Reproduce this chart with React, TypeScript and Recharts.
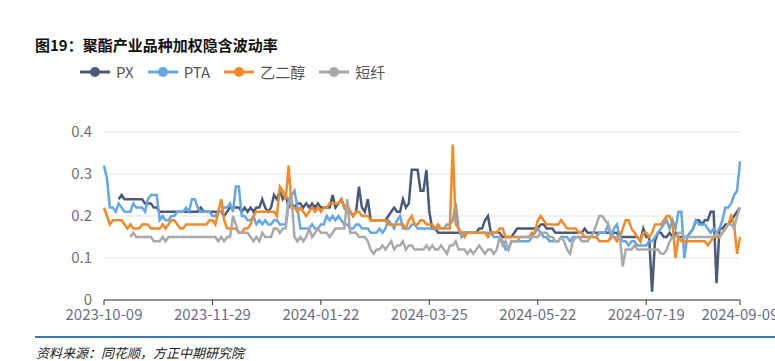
import { LineChart, Line, XAxis, YAxis, CartesianGrid } from "recharts"

// tick positions (trading-day index) and their labels
const tickIdx = [0, 37, 74, 111, 148, 185, 217]
const tickLabels = ["2023-10-09", "2023-11-29", "2024-01-22", "2024-03-25", "2024-05-22", "2024-07-19", "2024-09-09"]
const yTicks = [0, 0.1, 0.2, 0.3, 0.4]

const pxVals = [
  null, null, null, null, null, 0.24, 0.25, 0.24, 0.24, 0.24,
  0.24, 0.24, 0.24, 0.24, 0.23, 0.23, 0.23, 0.22, 0.22, 0.21,
  0.21, 0.21, 0.21, 0.21, 0.21, 0.21, 0.21, 0.21, 0.21, 0.21,
  0.21, 0.21, 0.21, 0.22, 0.21, 0.21, 0.21, 0.21, 0.21, 0.21,
  0.21, 0.20, 0.21, 0.22, 0.22, 0.22, 0.22, 0.21, 0.22, 0.21,
  0.22, 0.21, 0.22, 0.22, 0.24, 0.22, 0.21, 0.22, 0.25, 0.24,
  0.26, 0.24, 0.25, 0.22, 0.23, 0.22, 0.23, 0.23, 0.22, 0.23,
  0.22, 0.23, 0.22, 0.23, 0.22, 0.22, 0.22, 0.22, 0.25, 0.22,
  0.23, 0.24, 0.22, 0.21, 0.21, 0.20, 0.21, 0.27, 0.22, 0.21,
  0.24, 0.19, 0.19, 0.19, 0.19, 0.19, 0.19, 0.20, 0.21, 0.22,
  0.21, 0.21, 0.24, 0.22, 0.23, 0.31, 0.31, 0.31, 0.26, 0.26,
  0.31, 0.21, 0.17, 0.17, 0.16, 0.16, 0.16, 0.16, 0.16, 0.16,
  0.16, 0.16, 0.16, 0.16, 0.16, 0.16, 0.16, 0.16, 0.17, 0.17,
  0.19, 0.20, 0.16, 0.16, 0.16, 0.16, 0.15, 0.15, 0.15, 0.15,
  0.16, 0.17, 0.17, 0.17, 0.17, 0.17, 0.17, 0.17, 0.17, 0.18,
  0.18, 0.17, 0.17, 0.17, 0.16, 0.16, 0.16, 0.16, 0.16, 0.16,
  0.16, 0.16, 0.16, 0.16, 0.17, 0.16, 0.16, 0.16, 0.16, 0.16,
  0.16, 0.16, 0.16, 0.16, 0.16, 0.16, 0.15, 0.15, 0.15, 0.15,
  0.15, 0.15, 0.15, 0.14, 0.17, 0.15, 0.15, 0.02, 0.14, 0.16,
  0.16, 0.15, 0.15, 0.16, 0.15, 0.16, 0.15, 0.15, 0.15, 0.15,
  0.16, 0.17, 0.19, 0.19, 0.18, 0.19, 0.19, 0.21, 0.21, 0.04,
  0.17, 0.17, 0.18, 0.18, 0.19, 0.20, 0.21, 0.22,
]

const ptaVals = [
  0.32, 0.29, 0.22, 0.22, 0.21, 0.23, 0.22, 0.21, 0.21, 0.21,
  0.23, 0.22, 0.22, 0.22, 0.21, 0.24, 0.25, 0.25, 0.25, 0.19,
  0.20, 0.19, 0.19, 0.20, 0.20, 0.21, 0.21, 0.21, 0.22, 0.21,
  0.24, 0.24, 0.22, 0.21, 0.21, 0.21, 0.21, 0.20, 0.20, 0.21,
  0.21, 0.22, 0.22, 0.23, 0.21, 0.27, 0.27, 0.20, 0.20, 0.19,
  0.19, 0.20, 0.18, 0.19, 0.18, 0.19, 0.18, 0.18, 0.19, 0.19,
  0.18, 0.18, 0.18, 0.24, 0.25, 0.26, 0.22, 0.17, 0.17, 0.17,
  0.17, 0.18, 0.17, 0.17, 0.18, 0.18, 0.20, 0.19, 0.20, 0.19,
  0.20, 0.19, 0.18, 0.18, 0.17, 0.17, 0.18, 0.18, 0.17, 0.17,
  0.17, 0.16, 0.16, 0.16, 0.17, 0.16, 0.17, 0.19, 0.18, 0.17,
  0.19, 0.20, 0.17, 0.17, 0.17, 0.18, 0.18, 0.17, 0.17, 0.17,
  0.17, 0.17, 0.17, 0.17, 0.17, 0.17, 0.17, 0.18, 0.18, 0.19,
  0.23, 0.17, 0.15, 0.16, 0.16, 0.16, 0.16, 0.16, 0.16, 0.16,
  0.16, 0.16, 0.16, 0.15, 0.15, 0.15, 0.14, 0.12, 0.12, 0.14,
  0.14, 0.14, 0.14, 0.14, 0.14, 0.14, 0.15, 0.16, 0.17, 0.16,
  0.15, 0.15, 0.14, 0.14, 0.14, 0.14, 0.15, 0.15, 0.15, 0.14,
  0.15, 0.15, 0.15, 0.15, 0.15, 0.15, 0.15, 0.15, 0.15, 0.16,
  0.16, 0.16, 0.18, 0.15, 0.17, 0.18, 0.15, 0.14, 0.14, 0.13,
  0.14, 0.14, 0.13, 0.13, 0.13, 0.13, 0.14, 0.14, 0.15, 0.16,
  0.17, 0.18, 0.19, 0.17, 0.19, 0.17, 0.21, 0.21, 0.10, 0.15,
  0.16, 0.17, 0.19, 0.18, 0.18, 0.18, 0.17, 0.16, 0.17, 0.16,
  0.17, 0.19, 0.22, 0.22, 0.23, 0.25, 0.26, 0.33,
]

const megVals = [
  0.22, 0.20, 0.18, 0.19, 0.19, 0.19, 0.19, 0.18, 0.17, 0.18,
  0.17, 0.17, 0.17, 0.18, 0.18, 0.18, 0.17, 0.17, 0.17, 0.17,
  0.18, 0.17, 0.18, 0.19, 0.19, 0.18, 0.17, 0.17, 0.18, 0.18,
  0.18, 0.18, 0.18, 0.18, 0.18, 0.18, 0.19, 0.19, 0.18, 0.21,
  0.24, 0.19, 0.17, 0.17, 0.17, 0.17, 0.16, 0.16, 0.17, 0.17,
  0.18, 0.20, 0.21, 0.21, 0.21, 0.21, 0.21, 0.21, 0.21, 0.20,
  0.27, 0.26, 0.24, 0.32, 0.22, 0.22, 0.21, 0.22, 0.21, 0.20,
  0.21, 0.22, 0.21, 0.22, 0.21, 0.22, 0.22, 0.23, 0.23, 0.23,
  0.23, 0.24, 0.22, 0.23, 0.21, 0.20, 0.21, 0.21, 0.20, 0.20,
  0.20, 0.19, 0.19, 0.19, 0.19, 0.19, 0.19, 0.18, 0.18, 0.18,
  0.18, 0.18, 0.18, 0.17, 0.19, 0.20, 0.18, 0.18, 0.19, 0.19,
  0.18, 0.18, 0.18, 0.17, 0.18, 0.17, 0.17, 0.17, 0.17, 0.37,
  0.18, 0.17, 0.16, 0.15, 0.16, 0.16, 0.16, 0.16, 0.16, 0.16,
  0.16, 0.15, 0.16, 0.16, 0.16, 0.17, 0.17, 0.15, 0.15, 0.15,
  0.15, 0.15, 0.15, 0.15, 0.15, 0.15, 0.16, 0.16, 0.19, 0.20,
  0.19, 0.18, 0.18, 0.18, 0.18, 0.18, 0.19, 0.18, 0.17, 0.17,
  0.17, 0.17, 0.16, 0.16, 0.15, 0.15, 0.15, 0.15, 0.15, 0.14,
  0.14, 0.14, 0.14, 0.15, 0.15, 0.14, 0.15, 0.17, 0.19, 0.19,
  0.17, 0.16, 0.15, 0.14, 0.16, 0.16, 0.15, 0.16, 0.18, 0.18,
  0.18, 0.19, 0.20, 0.20, 0.18, 0.10, 0.15, 0.14, 0.14, 0.14,
  0.14, 0.14, 0.14, 0.14, 0.14, 0.14, 0.13, 0.14, 0.15, 0.15,
  0.15, 0.16, 0.17, 0.18, 0.20, 0.18, 0.11, 0.15,
]

const psfVals = [
  null, null, null, null, null, null, null, null, null, 0.15,
  0.16, 0.15, 0.15, 0.15, 0.15, 0.15, 0.15, 0.14, 0.14, 0.14,
  0.15, 0.14, 0.15, 0.15, 0.15, 0.15, 0.15, 0.15, 0.15, 0.15,
  0.15, 0.15, 0.15, 0.15, 0.15, 0.15, 0.15, 0.15, 0.15, 0.14,
  0.15, 0.14, 0.15, 0.15, 0.20, 0.18, 0.16, 0.16, 0.16, 0.16,
  0.15, 0.14, 0.15, 0.14, 0.16, 0.15, 0.15, 0.15, 0.17, 0.17,
  0.16, 0.17, 0.17, 0.23, 0.24, 0.15, 0.14, 0.15, 0.14, 0.15,
  0.17, 0.15, 0.16, 0.17, 0.16, 0.16, 0.16, 0.15, 0.16, 0.17,
  0.17, 0.17, 0.17, 0.24, 0.16, 0.16, 0.16, 0.15, 0.15, 0.15,
  0.14, 0.12, 0.11, 0.12, 0.12, 0.13, 0.12, 0.13, 0.14, 0.12,
  0.13, 0.13, 0.14, 0.12, 0.13, 0.13, 0.12, 0.12, 0.12, 0.12,
  0.13, 0.12, 0.13, 0.12, 0.12, 0.13, 0.12, 0.11, 0.13, 0.13,
  0.14, 0.12, 0.12, 0.12, 0.11, 0.12, 0.11, 0.12, 0.13, 0.12,
  0.11, 0.12, 0.12, 0.11, 0.12, 0.15, 0.13, 0.14, 0.12, 0.14,
  0.14, 0.14, 0.15, 0.15, 0.15, 0.15, 0.15, 0.15, 0.15, 0.16,
  0.16, 0.16, 0.15, 0.15, 0.14, 0.14, 0.15, 0.14, 0.12, 0.11,
  0.14, 0.15, 0.15, 0.14, 0.14, 0.14, 0.15, 0.16, 0.18, 0.20,
  0.20, 0.19, 0.18, 0.16, 0.15, 0.15, 0.15, 0.08, 0.12, 0.12,
  0.12, 0.13, 0.12, 0.12, 0.12, 0.12, 0.12, 0.12, 0.12, 0.12,
  0.11, 0.11, 0.12, 0.14, 0.15, 0.15, 0.16, 0.16, 0.15, 0.15,
  0.15, 0.15, 0.15, 0.15, 0.15, 0.15, 0.15, 0.15, 0.15, 0.16,
  0.15, 0.16, 0.17, 0.18, 0.18, 0.17, 0.20, 0.22,
]

const series = [
  { key: "px", name: "PX", color: "#4b5a78", values: pxVals },
  { key: "pta", name: "PTA", color: "#66a6e2", values: ptaVals },
  { key: "meg", name: "乙二醇", color: "#f28a27", values: megVals },
  { key: "psf", name: "短纤", color: "#a9a9a9", values: psfVals },
]

const data = ptaVals.map((_, i) => {
  const row: Record<string, number | null> = { i }
  series.forEach((s) => {
    row[s.key] = s.values[i] ?? null
  })
  return row
})

const font = '"Noto Sans CJK SC", "Noto Sans", sans-serif'

function LegendRow() {
  return (
    <div style={{ display: "flex", alignItems: "center", fontFamily: font, fontSize: 15, color: "#555" }}>
      {series.map((s) => (
        <div key={s.key} style={{ display: "flex", alignItems: "center", marginRight: 14 }}>
          <svg width={30} height={12}>
            <line x1={0} y1={6} x2={30} y2={6} stroke={s.color} strokeWidth={3} />
            <circle cx={15} cy={6} r={5} fill={s.color} />
          </svg>
          <span style={{ marginLeft: 6 }}>{s.name}</span>
        </div>
      ))}
    </div>
  )
}

export default function App() {
  return (
    <div style={{ position: "absolute", left: 0, top: 0, width: 775, height: 361, overflow: "hidden", background: "#fff" }}>
      <div style={{ position: "absolute", left: 35, top: 34, fontFamily: font, fontSize: 15, fontWeight: 600, color: "#111" }}>
        图19：聚酯产业品种加权隐含波动率
      </div>
      <div style={{ position: "absolute", left: 80, top: 61 }}>
        <LegendRow />
      </div>
      <div style={{ position: "absolute", left: 0, top: 0 }}>
        <LineChart width={775} height={335} data={data} margin={{ top: 132, right: 35, bottom: 0, left: 0 }}>
          <CartesianGrid vertical={false} stroke="#e0e3ec" />
          <XAxis
            dataKey="i"
            type="number"
            domain={[0, 217]}
            ticks={tickIdx}
            tickFormatter={(v: number) => tickLabels[tickIdx.indexOf(v)] ?? ""}
            interval={0}
            height={35}
            axisLine={{ stroke: "#333" }}
            tickLine={{ stroke: "#333" }}
            tickSize={5}
            tickMargin={4}
            tick={{ fill: "#6e7079", fontSize: 15, fontFamily: font }}
          />
          <YAxis
            domain={[0, 0.4]}
            ticks={yTicks}
            width={104}
            axisLine={false}
            tickLine={false}
            tickSize={0}
            tickMargin={12}
            tickFormatter={(v: number) => String(v)}
            tick={{ fill: "#6e7079", fontSize: 15, fontFamily: font }}
          />
          {series.map((s) => (
            <Line
              key={s.key}
              type="linear"
              dataKey={s.key}
              name={s.name}
              stroke={s.color}
              strokeWidth={2.5}
              dot={false}
              isAnimationActive={false}
            />
          ))}
        </LineChart>
      </div>
      <div style={{ position: "absolute", left: 35, right: 0, top: 336, height: 0, borderTop: "2px solid #3b78b8" }} />
      <div
        style={{
          position: "absolute",
          left: 36,
          top: 345,
          fontFamily: font,
          fontSize: 13,
          lineHeight: "16px",
          fontStyle: "italic",
          color: "#222",
          paddingRight: 4,
        }}
      >
        资料来源：同花顺，方正中期研究院
      </div>
    </div>
  )
}
